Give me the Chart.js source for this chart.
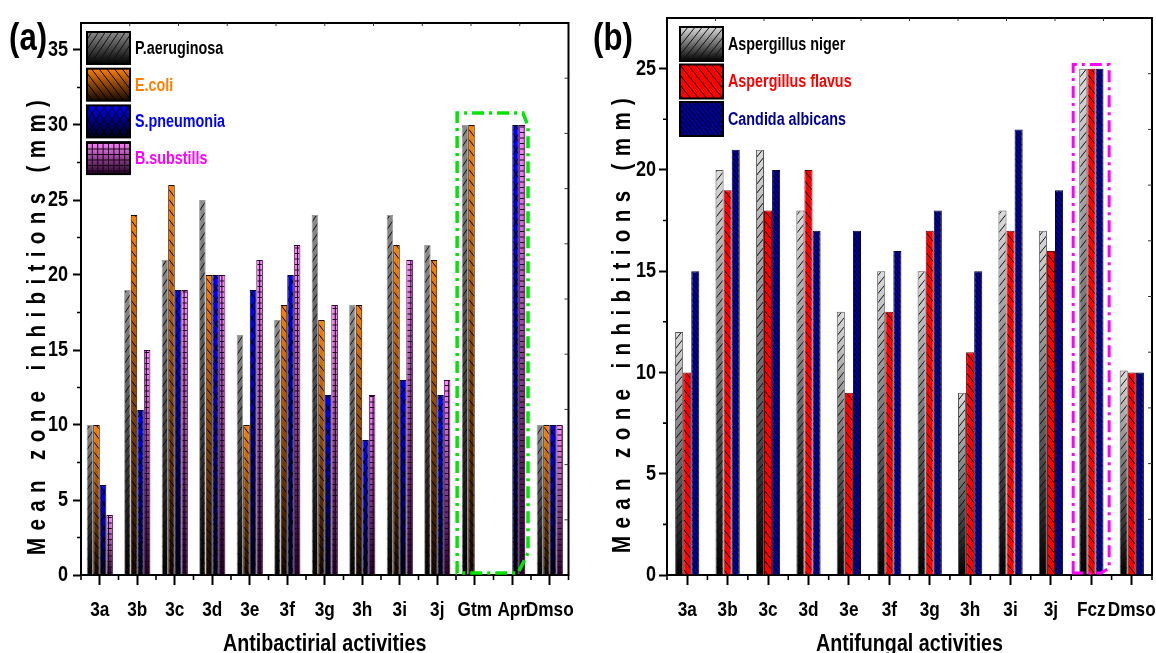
<!DOCTYPE html>
<html><head><meta charset="utf-8">
<script src="https://cdn.jsdelivr.net/npm/chart.js@4.4.1/dist/chart.umd.min.js"></script>
<style>
html,body{margin:0;padding:0;background:#fff;overflow:hidden;width:1156px;height:653px;}
#wa{position:absolute;left:0;top:0;width:580px;height:653px;}
#wb{position:absolute;left:580px;top:0;width:576px;height:653px;}
</style></head><body>
<div id="wa"><canvas id="ca" width="580" height="653"></canvas></div>
<div id="wb"><canvas id="cb" width="576" height="653"></canvas></div>
<script>
// ---------- data (a) ----------
const catsA = ['3a','3b','3c','3d','3e','3f','3g','3h','3i','3j','Gtm','Apr','Dmso'];
const pAeruginosa = [10,19,21,25,16,17,24,18,24,22,30,0,10];
const eColi       = [10,24,26,20,10,18,17,18,22,21,30,0,10];
const sPneumonia  = [6,11,19,20,19,20,12,9,13,12,0,30,10];
const bSubstills  = [4,15,19,20,21,22,18,12,21,13,0,30,10];
const seriesNamesA = ['P.aeruginosa','E.coli','S.pneumonia','B.substills'];
const yTicksA = [0,5,10,15,20,25,30,35];
// ---------- data (b) ----------
const catsB = ['3a','3b','3c','3d','3e','3f','3g','3h','3i','3j','Fcz','Dmso'];
const aNiger    = [12,20,21,18,13,15,15,9,18,17,25,10.1];
const aFlavus   = [10,19,18,20,9,13,17,11,17,16,25,10];
const cAlbicans = [15,21,20,17,17,16,18,15,22,19,25,10];
const seriesNamesB = ['Aspergillus niger','Aspergillus flavus','Candida albicans'];
const yTicksB = [0,5,10,15,20,25];

const Y_TITLE = 'Mean zone inhibitions (mm)';

function hasFont(f){const c=document.createElement('canvas').getContext('2d');c.font='40px monospace';const a=c.measureText('abcdefghijklmW').width;c.font='40px "'+f+'", monospace';return Math.abs(c.measureText('abcdefghijklmW').width-a)>0.5;}
const HAS_NARROW = hasFont('Liberation Sans Narrow');
const FAM = HAS_NARROW ? '"Liberation Sans Narrow", "Liberation Sans", sans-serif' : '"Liberation Sans", Arial, sans-serif';
// condensed look (Arial Narrow-like) when no narrow face is installed
const NARROW = HAS_NARROW ? 1 : 0.82;
if(NARROW!==1){
  const P=CanvasRenderingContext2D.prototype, f=P.fillText, m=P.measureText;
  P.fillText=function(t,x,y,mw){this.save();this.translate(x,y);this.scale(NARROW,1);f.call(this,t,0,0);this.restore();};
  P.measureText=function(t){const r=m.call(this,t);return {width:r.width*NARROW,
    actualBoundingBoxAscent:r.actualBoundingBoxAscent,actualBoundingBoxDescent:r.actualBoundingBoxDescent,
    actualBoundingBoxLeft:r.actualBoundingBoxLeft*NARROW,actualBoundingBoxRight:r.actualBoundingBoxRight*NARROW,
    fontBoundingBoxAscent:r.fontBoundingBoxAscent,fontBoundingBoxDescent:r.fontBoundingBoxDescent};};
}

// ---------- styles ----------
const stylesA = [
  {top:'#8c8c8c', bot:'#000000', border:'#9a9a9a', text:'#000000', hatch:{type:'/', slope:1.5, sp:10, color:'#111'}},
  {top:'#ff8000', bot:'#140800', border:'#1a0a00', text:'#ff8000', hatch:{type:'\\', slope:1.3, sp:10, color:'#000'}},
  {top:'#0000ff', bot:'#000014', border:'#000040', text:'#0000ff', hatch:{type:'x', slope:1.5, sp:12, color:'#000'}},
  {top:'#ff88ff', bot:'#260026', border:'#3a003a', text:'#ff00ff', hatch:{type:'+', sx:5.4, sy:5.5, color:'#1a001a'}}
];
const stylesB = [
  {top:'#dcdcdc', bot:'#000000', border:'#555555', text:'#000000', hatch:{type:'/', slope:1.25, sp:9, color:'#111'}},
  {top:'#ff0000', bot:'#ff0000', border:'#700000', text:'#ff0000', hatch:{type:'\\', slope:1.25, sp:10, color:'#000'}},
  {top:'#000099', bot:'#000099', border:'#000033', text:'#000099', hatch:{type:'\\', slope:1.25, sp:5.5, color:'#000'}}
];

function hatch(ctx,x0,y0,w,h,p){
  if(w<=0||h<=0) return;
  ctx.save(); ctx.beginPath(); ctx.rect(x0,y0,w,h); ctx.clip();
  ctx.strokeStyle=p.color; ctx.lineWidth=p.lw||1; ctx.beginPath();
  const types = p.type==='x' ? ['/','\\'] : [p.type];
  for(const t of types){
    if(t==='/'||t==='\\'){
      const s=p.slope, sp=p.sp, sign=(t==='/')?-1:1;
      const cs=[y0-sign*s*x0, y0-sign*s*(x0+w), y0+h-sign*s*x0, y0+h-sign*s*(x0+w)];
      const cmin=Math.floor(Math.min(...cs)/sp)*sp, cmax=Math.max(...cs);
      for(let c=cmin;c<=cmax+sp;c+=sp){
        const xa=x0-2, xb=x0+w+2;
        ctx.moveTo(xa,c+sign*s*xa); ctx.lineTo(xb,c+sign*s*xb);
      }
    } else if(t==='+'){
      for(let y=Math.floor(y0/p.sy)*p.sy;y<=y0+h;y+=p.sy){ctx.moveTo(x0,y+0.5);ctx.lineTo(x0+w,y+0.5);}
      for(let x=Math.floor(x0/p.sx)*p.sx;x<=x0+w;x+=p.sx){ctx.moveTo(x+0.5,y0);ctx.lineTo(x+0.5,y0+h);}
    }
  }
  ctx.stroke(); ctx.restore();
}

function grad(st){
  return (c)=>{
    if(st.top===st.bot) return st.top;
    const ch=c.chart, a=ch.chartArea;
    if(!a||c.type!=='data') return st.top;
    const ys=ch.scales.y;
    const yt=ys.getPixelForValue(c.raw), yb=ys.getPixelForValue(0);
    if(!(yb-yt>=1)) return st.top;
    const g=ch.ctx.createLinearGradient(0,yt,0,yb);
    g.addColorStop(0,st.top); g.addColorStop(1,st.bot);
    return g;
  };
}

function hatchPlugin(styles){
  return {id:'hatchp', afterDatasetsDraw(chart){
    const ctx=chart.ctx;
    chart.data.datasets.forEach((ds,i)=>{
      const meta=chart.getDatasetMeta(i);
      meta.data.forEach(el=>{
        const p=el.getProps(['x','y','base','width'],true);
        const h=p.base-p.y; if(h<1) return;
        const bw=1;
        hatch(ctx,p.x-p.width/2+bw,p.y+bw,p.width-2*bw,h-bw,styles[i].hatch);
      });
    });
  }};
}

function spacedText(ctx,text,x,y,gap){
  let cx=x;
  for(const ch of text){ ctx.fillText(ch,cx,y); cx+=ctx.measureText(ch).width+gap; }
}

function decoPlugin(cfg,styles){
  return {id:'deco', afterDraw(chart){
    const ctx=chart.ctx, a=chart.chartArea, xs=chart.scales.x, ys=chart.scales.y;
    ctx.save();
    // frame top/right
    ctx.strokeStyle='#000'; ctx.lineWidth=2;
    ctx.beginPath(); ctx.moveTo(a.left-1,a.top); ctx.lineTo(a.right,a.top); ctx.lineTo(a.right,a.bottom+1); ctx.stroke();
    // small ticks on top and right borders
    ctx.lineWidth=1; ctx.strokeStyle='#333'; ctx.beginPath();
    for(let i=1;i<10;i++){
      const x=a.left+(a.right-a.left)*i/10; ctx.moveTo(x,a.top); ctx.lineTo(x,a.top+3);
      const y=a.top+(a.bottom-a.top)*i/10; ctx.moveTo(a.right,y); ctx.lineTo(a.right-4,y);
    }
    ctx.stroke();
    // minor ticks
    ctx.strokeStyle='#000'; ctx.lineWidth=1.6; ctx.beginPath();
    const n=chart.data.labels.length, cw=(xs.getPixelForValue(1)-xs.getPixelForValue(0));
    for(let i=0;i<=n;i++){const x=xs.getPixelForValue(i)-cw/2; ctx.moveTo(x,a.bottom); ctx.lineTo(x,a.bottom+5);}
    for(let v=2.5; v<cfg.yMax; v+=5){const y=ys.getPixelForValue(v); ctx.moveTo(a.left,y); ctx.lineTo(a.left-4,y);}
    ctx.stroke();
    // highlight box
    const hb=cfg.hbox;
    const xl=xs.getPixelForValue(hb.i0)-cw*hb.l, xr=xs.getPixelForValue(hb.i1)+cw*hb.r;
    const yt=ys.getPixelForValue(hb.vTop), yb=ys.getPixelForValue(hb.vBot);
    ctx.strokeStyle=hb.color; ctx.lineWidth=hb.lw; ctx.setLineDash(hb.dash); ctx.lineCap='butt';
    ctx.beginPath();
    ctx.moveTo(xl,yb); ctx.lineTo(xl,yt); ctx.lineTo(xr-hb.tc[0],yt); ctx.lineTo(xr,yt+hb.tc[1]);
    ctx.lineTo(xr,yb-hb.bc[1]); ctx.lineTo(xr-hb.bc[0],yb); ctx.closePath(); ctx.stroke();
    ctx.setLineDash([]);
    // legend
    const lg=cfg.legend;
    chart.data.datasets.forEach((ds,i)=>{
      const st=styles[i];
      const bx=a.left+lg.dx, by=a.top+lg.dy+i*lg.pitch;
      let fill=st.top;
      if(st.top!==st.bot){fill=ctx.createLinearGradient(0,by,0,by+lg.h); fill.addColorStop(0,st.top); fill.addColorStop(1,st.bot);}
      ctx.fillStyle=fill; ctx.fillRect(bx,by,lg.w,lg.h);
      hatch(ctx,bx,by,lg.w,lg.h,st.hatch);
      ctx.strokeStyle='#000'; ctx.lineWidth=2; ctx.strokeRect(bx,by,lg.w,lg.h);
      ctx.fillStyle=st.text; ctx.font='bold '+lg.fs+'px '+FAM; ctx.textBaseline='middle'; ctx.textAlign='left';
      ctx.fillText(ds.label,bx+lg.w+lg.tx,by+lg.h/2+1);
    });
    // y-axis title (letter-spaced, rotated)
    const yt2=cfg.yTitle;
    ctx.save();
    ctx.translate(yt2.x,yt2.y); ctx.rotate(-Math.PI/2);
    ctx.fillStyle='#000'; ctx.font='bold '+yt2.fs+'px '+FAM; ctx.textBaseline='alphabetic'; ctx.textAlign='left';
    spacedText(ctx,Y_TITLE,0,0,yt2.gap);
    ctx.restore();
    // panel label
    ctx.fillStyle='#000'; ctx.font='bold '+cfg.tag.fs+'px '+FAM; ctx.textBaseline='alphabetic'; ctx.textAlign='left';
    ctx.fillText(cfg.tag.text,cfg.tag.x,cfg.tag.y);
    ctx.restore();
  }};
}

function makeChart(id,cats,dataArr,names,styles,yTicks,cfg){
  const datasets=dataArr.map((d,i)=>({label:names[i],data:d,backgroundColor:grad(styles[i]),borderColor:styles[i].border,borderWidth:1,categoryPercentage:cfg.catPct,barPercentage:1}));
  return new Chart(document.getElementById(id),{
    type:'bar',
    data:{labels:cats,datasets},
    options:{
      responsive:false, animation:false, devicePixelRatio:1,
      layout:{padding:{left:0,top:cfg.top,right:cfg.right,bottom:0}},
      plugins:{legend:{display:false},tooltip:{enabled:false},title:{display:false}},
      scales:{
        x:{type:'category',offset:true,
          grid:{offset:false,drawOnChartArea:false,drawTicks:true,tickLength:10,tickWidth:2,color:'#000'},
          border:{display:true,color:'#000',width:2},
          ticks:{autoSkip:false,maxRotation:0,minRotation:0,padding:cfg.xPad,color:'#000',font:{family:FAM,size:21,weight:'bold'}},
          title:{display:true,text:cfg.xTitle,color:'#000',font:{family:FAM,size:24,weight:'bold',lineHeight:1.2},padding:{top:0,bottom:cfg.xTitlePad}},
          afterFit:s=>{s.height=cfg.xH; s.paddingLeft=0; s.paddingRight=0;}},
        y:{type:'linear',min:0,max:cfg.yMax,
          afterBuildTicks:s=>{s.ticks=yTicks.map(v=>({value:v}));},
          grid:{drawOnChartArea:false,drawTicks:true,tickLength:8,tickWidth:2,color:'#000'},
          border:{display:true,color:'#000',width:2},
          ticks:{padding:cfg.yPad,color:'#000',font:{family:FAM,size:22,weight:'bold'}},
          title:{display:false},
          afterFit:s=>{s.width=cfg.yW; s.paddingTop=0; s.paddingBottom=0;}}
      }
    },
    plugins:[hatchPlugin(styles),decoPlugin(cfg,styles)]
  });
}

makeChart('ca',catsA,[pAeruginosa,eColi,sPneumonia,bSubstills],seriesNamesA,stylesA,yTicksA,{
  top:23,right:11.5,yW:81,xH:78,yMax:36.8,catPct:0.7,xPad:13,yPad:5,xTitlePad:-6,
  xTitle:'Antibactirial activities',
  yTitle:{x:45,y:555,fs:25,gap:7.4},
  hbox:{i0:10,i1:11,l:0.47,r:0.42,vTop:30.8,vBot:0.13,color:'#00e600',lw:3.5,dash:[12,5,3,5],tc:[5,13],bc:[10,20]},
  legend:{dx:6,dy:9,pitch:36.7,w:43,h:32,tx:5,fs:17.5},
  tag:{text:'(a)',fs:38,x:9,y:50}
});
makeChart('cb',catsB,[aNiger,aFlavus,cAlbicans],seriesNamesB,stylesB,yTicksB,{
  top:18,right:4,yW:87,xH:78,yMax:27.5,catPct:0.6,xPad:13,yPad:3,xTitlePad:-6,
  xTitle:'Antifungal activities',
  yTitle:{x:50,y:553,fs:25,gap:7.4},
  hbox:{i0:10,i1:10,l:0.45,r:0.44,vTop:25.2,vBot:0.1,color:'#ff00ff',lw:3,dash:[12,5,3,5],tc:[0,0],bc:[8,5]},
  legend:{dx:13,dy:9,pitch:37.5,w:43,h:34,tx:5,fs:17.5},
  tag:{text:'(b)',fs:38,x:13,y:50}
});
</script>
</body></html>
